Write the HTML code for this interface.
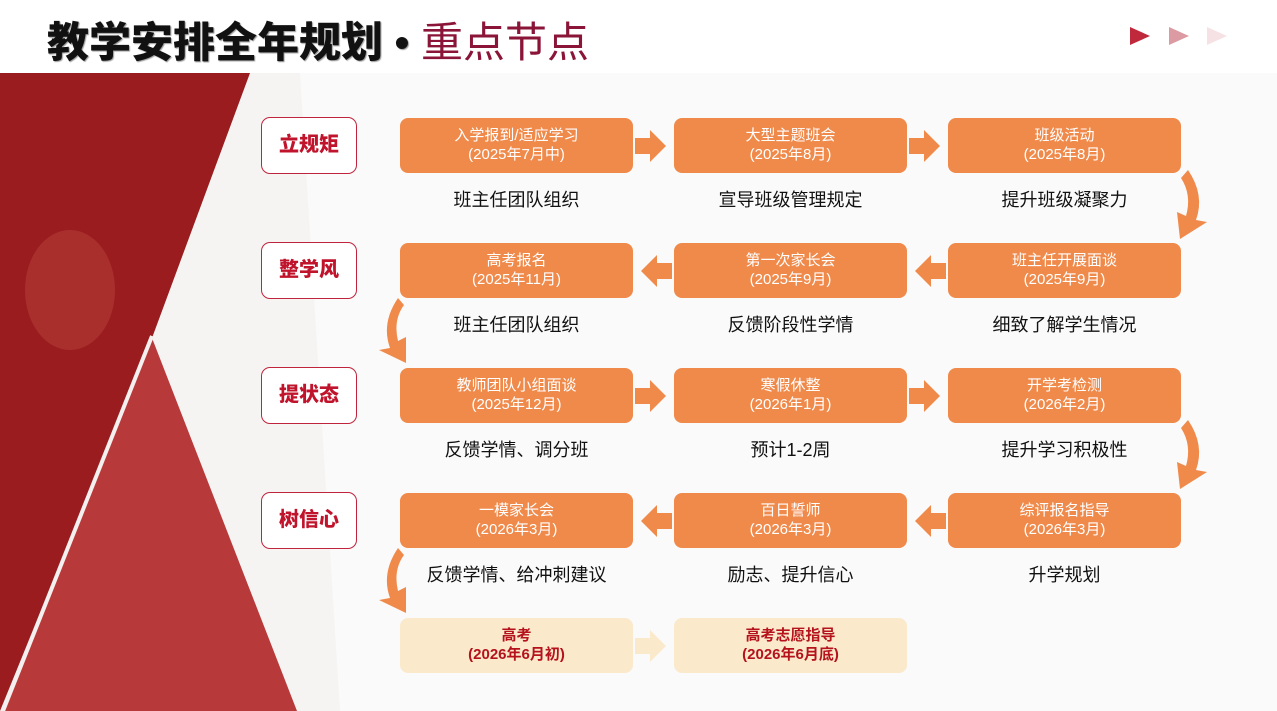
<!DOCTYPE html>
<html><head><meta charset="utf-8"><style>
*{margin:0;padding:0;box-sizing:border-box}
body{width:1277px;height:711px;overflow:hidden;position:relative;background:#f3f2f1;font-family:"Liberation Sans","Noto Sans CJK SC",sans-serif}
.hdr{position:absolute;left:0;top:0;width:1277px;height:73px;background:#fff}
.title{position:absolute;left:47px;top:9px;font-size:42px;font-weight:900;color:#111;text-shadow:1px 1px 1px #999;white-space:nowrap}
.title span{color:#8a1538;font-weight:400;text-shadow:none}
.box{position:absolute;width:233px;height:55px;background:#f08a4b;border-radius:8px;color:#fff;font-size:15px;line-height:19px;text-align:center;padding-top:8px}
.box.l{background:#fbe9cc;color:#b5121b;font-weight:bold}
.tag{position:absolute;left:261px;width:96px;height:57px;border:1.5px solid #c0243c;border-radius:9px;background:#fff;color:#c0142c;font-weight:900;font-size:20px;text-align:center;line-height:54px}
.lab{position:absolute;width:233px;text-align:center;font-size:18px;color:#111}
</style></head><body>
<div class="hdr"></div>
<div class="title">教学安排全年规划 • <span>重点节点</span></div>
<svg style="position:absolute;left:0;top:0" width="1277" height="711">
<polygon points="1130,27 1150,36 1130,45" fill="#c0283c"/>
<polygon points="1169,27 1189,36 1169,45" fill="#dc9aa2"/>
<polygon points="1207,27 1227,36 1207,45" fill="#f6e2e4"/>
<rect x="0" y="73" width="1277" height="638" fill="#f5f4f3"/>
<polygon points="300,73 1277,73 1277,711 340,711" fill="#fafafa"/>
<polygon points="0,73 250,73 152,338 0,711" fill="#9a1c1f"/>
<polygon points="152,338 297,711 3,711" fill="#b8393a"/>
<line x1="152" y1="336" x2="3" y2="711" stroke="#f4f0f0" stroke-width="4"/>
<ellipse cx="70" cy="290" rx="45" ry="60" fill="#b8413c" opacity=".5"/>
<g fill="#f08a4b">
<polygon points="635,138 650,138 650,130 666,146 650,162 650,154 635,154"/>
<polygon points="909,138 924,138 924,130 940,146 924,162 924,154 909,154"/>
<polygon points="635,388 650,388 650,380 666,396 650,412 650,404 635,404"/>
<polygon points="909,388 924,388 924,380 940,396 924,412 924,404 909,404"/>
<polygon points="672,263 657,263 657,255 641,271 657,287 657,279 672,279"/>
<polygon points="946,263 931,263 931,255 915,271 931,287 931,279 946,279"/>
<polygon points="672,513 657,513 657,505 641,521 657,537 657,529 672,529"/>
<polygon points="946,513 931,513 931,505 915,521 931,537 931,529 946,529"/>
<path d="M1188,170 Q1205,195 1196,220 L1207,222 L1180,239 L1177,212 L1186,216 Q1192,195 1181,178 Z"/>
<path d="M1188,420 Q1205,445 1196,470 L1207,472 L1180,489 L1177,462 L1186,466 Q1192,445 1181,428 Z"/>
<path d="M398,298 Q381,323 390,348 L379,350 L406,363 L406,337 L398,341 Q393,320 404,305 Z"/>
<path d="M398,548 Q381,573 390,598 L379,600 L406,613 L406,587 L398,591 Q393,570 404,555 Z"/>
</g>
<polygon points="635,638 650,638 650,630 666,646 650,662 650,654 635,654" fill="#fbe9cc"/>
</svg>
<div class="tag" style="top:117px">立规矩</div>
<div class="tag" style="top:242px">整学风</div>
<div class="tag" style="top:367px">提状态</div>
<div class="tag" style="top:492px">树信心</div>

<div class="box" style="left:400px;top:118px">入学报到/适应学习<br>(2025年7月中)</div>
<div class="box" style="left:674px;top:118px">大型主题班会<br>(2025年8月)</div>
<div class="box" style="left:948px;top:118px">班级活动<br>(2025年8月)</div>
<div class="lab" style="left:400px;top:186px">班主任团队组织</div>
<div class="lab" style="left:674px;top:186px">宣导班级管理规定</div>
<div class="lab" style="left:948px;top:186px">提升班级凝聚力</div>

<div class="box" style="left:400px;top:243px">高考报名<br>(2025年11月)</div>
<div class="box" style="left:674px;top:243px">第一次家长会<br>(2025年9月)</div>
<div class="box" style="left:948px;top:243px">班主任开展面谈<br>(2025年9月)</div>
<div class="lab" style="left:400px;top:311px">班主任团队组织</div>
<div class="lab" style="left:674px;top:311px">反馈阶段性学情</div>
<div class="lab" style="left:948px;top:311px">细致了解学生情况</div>

<div class="box" style="left:400px;top:368px">教师团队小组面谈<br>(2025年12月)</div>
<div class="box" style="left:674px;top:368px">寒假休整<br>(2026年1月)</div>
<div class="box" style="left:948px;top:368px">开学考检测<br>(2026年2月)</div>
<div class="lab" style="left:400px;top:436px">反馈学情、调分班</div>
<div class="lab" style="left:674px;top:436px">预计1-2周</div>
<div class="lab" style="left:948px;top:436px">提升学习积极性</div>

<div class="box" style="left:400px;top:493px">一模家长会<br>(2026年3月)</div>
<div class="box" style="left:674px;top:493px">百日誓师<br>(2026年3月)</div>
<div class="box" style="left:948px;top:493px">综评报名指导<br>(2026年3月)</div>
<div class="lab" style="left:400px;top:561px">反馈学情、给冲刺建议</div>
<div class="lab" style="left:674px;top:561px">励志、提升信心</div>
<div class="lab" style="left:948px;top:561px">升学规划</div>

<div class="box l" style="left:400px;top:618px">高考<br>(2026年6月初)</div>
<div class="box l" style="left:674px;top:618px">高考志愿指导<br>(2026年6月底)</div>
</body></html>
